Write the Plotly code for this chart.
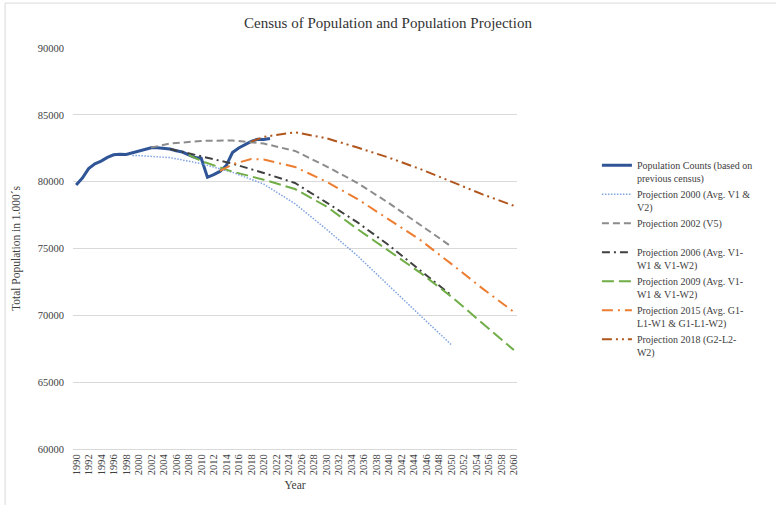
import plotly.graph_objects as go

# ---------------- data ----------------
count_years = list(range(1990, 2022))
counts = [79753, 80275, 80975, 81338, 81539, 81817, 82012, 82057, 82037, 82163,
          82260, 82440, 82537, 82532, 82501, 82438, 82315, 82218, 82002, 81802,
          81752, 80328, 80524, 80767, 81198, 82176, 82522, 82792, 83019, 83167,
          83155, 83237]

p2000_years = [1999, 2000, 2005, 2010, 2015, 2020, 2025, 2030, 2035, 2040, 2045, 2050]
p2000 = [81950, 81950, 81800, 81350, 80700, 79820, 78350, 76450, 74450, 72200, 70000, 67800]

p2002_years = [2002, 2005, 2010, 2015, 2020, 2025, 2030, 2035, 2040, 2045, 2050]
p2002 = [82550, 82850, 83050, 83080, 82850, 82300, 81150, 79900, 78400, 76800, 75150]

p2006_years = [2005, 2010, 2015, 2020, 2025, 2030, 2035, 2040, 2045, 2050]
p2006 = [82450, 81900, 81350, 80650, 79900, 78450, 76950, 75250, 73400, 71500]

p2009_years = [2008, 2010, 2015, 2020, 2025, 2030, 2035, 2040, 2045, 2050, 2055, 2060]
p2009 = [82000, 81550, 80750, 80150, 79450, 78150, 76450, 74850, 73200, 71400, 69400, 67400]

p2015_years = [2013, 2015, 2018, 2020, 2025, 2030, 2035, 2040, 2045, 2050, 2055, 2060]
p2015 = [80800, 81300, 81700, 81650, 81100, 80000, 78700, 77200, 75650, 73850, 72000, 70250]

p2018_years = [2018, 2020, 2025, 2030, 2035, 2040, 2045, 2050, 2055, 2060]
p2018 = [83000, 83350, 83700, 83250, 82550, 81800, 80950, 80000, 79050, 78200]

tick_years = list(range(1990, 2061, 2))
tick_labels = [str(y) for y in tick_years]
y_ticks = [60000, 65000, 70000, 75000, 80000, 85000, 90000]
y_tick_labels = [str(v) for v in y_ticks]

names = [
    "Population Counts (based on<br>previous census)",
    "Projection 2000 (Avg. V1 &<br>V2)",
    "Projection 2002 (V5)<br>\u00a0",
    "Projection 2006 (Avg. V1-<br>W1 & V1-W2)",
    "Projection 2009 (Avg. V1-<br>W1 & V1-W2)",
    "Projection 2015 (Avg. G1-<br>L1-W1 & G1-L1-W2)",
    "Projection 2018 (G2-L2-<br>W2)",
]

FONT = "Liberation Serif"

fig = go.Figure()
fig.add_trace(go.Scatter(x=count_years, y=counts, mode="lines", name=names[0],
                         line=dict(color="#2F5597", width=3)))
fig.add_trace(go.Scatter(x=p2000_years, y=p2000, mode="lines", name=names[1],
                         line=dict(color="#7FA3E0", width=1.5, dash="1.5px,1.5px")))
fig.add_trace(go.Scatter(x=p2002_years, y=p2002, mode="lines", name=names[2],
                         line=dict(color="#8C8C8C", width=2, dash="7px,4px")))
fig.add_trace(go.Scatter(x=p2006_years, y=p2006, mode="lines", name=names[3],
                         line=dict(color="#404040", width=2, dash="8px,4px,2px,4px")))
fig.add_trace(go.Scatter(x=p2009_years, y=p2009, mode="lines", name=names[4],
                         line=dict(color="#70AD47", width=2, dash="12px,5px")))
fig.add_trace(go.Scatter(x=p2015_years, y=p2015, mode="lines", name=names[5],
                         line=dict(color="#ED7D31", width=2, dash="11px,5px,2px,5px")))
fig.add_trace(go.Scatter(x=p2018_years, y=p2018, mode="lines", name=names[6],
                         line=dict(color="#B0561C", width=2, dash="10px,4px,2px,4px,2px,4px")))

fig.update_layout(
    width=776, height=505,
    margin=dict(l=73, r=259, t=48, b=56),
    paper_bgcolor="white", plot_bgcolor="white",
    font=dict(family=FONT, color="#404040"),
    title=dict(text="Census of Population and Population Projection",
               x=0.5, xref="container", xanchor="center", y=0.955, yanchor="middle",
               font=dict(size=15, color="#333333", family=FONT)),
    showlegend=True,
    legend=dict(x=1.18, y=0.74, xanchor="left", yanchor="top",
                font=dict(size=10, color="#404040", family=FONT),
                valign="top", bgcolor="rgba(0,0,0,0)", itemwidth=30,
                tracegroupgap=0),
    xaxis=dict(range=[1989.5, 2060.5], tickmode="array", tickvals=tick_years,
               ticktext=tick_labels, tickangle=-90, showgrid=False, zeroline=False,
               showline=True, linecolor="#D9D9D9", linewidth=1,
               tickfont=dict(size=10.5, color="#404040", family=FONT),
               title=dict(text="Year", font=dict(size=11.5, color="#404040", family=FONT),
                          standoff=6)),
    yaxis=dict(range=[60000, 90000], tickmode="array", tickvals=y_ticks,
               ticktext=y_tick_labels,
               showgrid=True, gridcolor="#D9D9D9", gridwidth=1, zeroline=False,
               showline=False, ticklabelstandoff=8,
               tickfont=dict(size=10.5, color="#404040", family=FONT),
               title=dict(text="Total Population in 1.000´s",
                          font=dict(size=11.5, color="#404040", family=FONT),
                          standoff=14)),
    shapes=[dict(type="rect", xref="paper", yref="paper",
                 x0=-0.153, x1=2.0, y0=-1.0, y1=1.112,
                 line=dict(color="#D9D9D9", width=1), fillcolor="rgba(0,0,0,0)",
                 layer="below")],
)

fig.write_html("out.html")
